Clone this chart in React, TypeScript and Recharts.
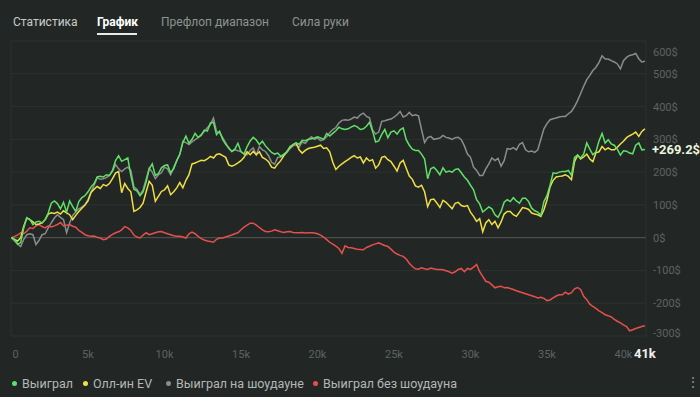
import React from 'react';
import { LineChart, Line, XAxis, YAxis, CartesianGrid, ReferenceLine } from 'recharts';

const hands = [
  0, 200, 400, 600, 800, 1000, 1200, 1400, 1600, 1800,
  2000, 2200, 2400, 2600, 2800, 3000, 3200, 3400, 3600, 3800,
  4000, 4200, 4400, 4600, 4800, 5000, 5200, 5400, 5600, 5800,
  6000, 6200, 6400, 6600, 6800, 7000, 7200, 7400, 7600, 7800,
  8000, 8200, 8400, 8600, 8800, 9000, 9200, 9400, 9600, 9800,
  10000, 10200, 10400, 10600, 10800, 11000, 11200, 11400, 11600, 11800,
  12000, 12200, 12400, 12600, 12800, 13000, 13200, 13400, 13600, 13800,
  14000, 14200, 14400, 14600, 14800, 15000, 15200, 15400, 15600, 15800,
  16000, 16200, 16400, 16600, 16800, 17000, 17200, 17400, 17600, 17800,
  18000, 18200, 18400, 18600, 18800, 19000, 19200, 19400, 19600, 19800,
  20000, 20200, 20400, 20600, 20800, 21000, 21200, 21400, 21600, 21800,
  22000, 22200, 22400, 22600, 22800, 23000, 23200, 23400, 23600, 23800,
  24000, 24200, 24400, 24600, 24800, 25000, 25200, 25400, 25600, 25800,
  26000, 26200, 26400, 26600, 26800, 27000, 27200, 27400, 27600, 27800,
  28000, 28200, 28400, 28600, 28800, 29000, 29200, 29400, 29600, 29800,
  30000, 30200, 30400, 30600, 30800, 31000, 31200, 31400, 31600, 31800,
  32000, 32200, 32400, 32600, 32800, 33000, 33200, 33400, 33600, 33800,
  34000, 34200, 34400, 34600, 34800, 35000, 35200, 35400, 35600, 35800,
  36000, 36200, 36400, 36600, 36800, 37000, 37200, 37400, 37600, 37800,
  38000, 38200, 38400, 38600, 38800, 39000, 39200, 39400, 39600, 39800,
  40000, 40200, 40400, 40600, 40800, 41000, 41200, 41400,
];

// Выиграл
const won = [
  0, -5, -20, -15, 30, 61, 55, 40, 48, 50,
  45, 55, 75, 105, 112, 104, 88, 108, 78, 112,
  95, 80, 110, 122, 128, 140, 155, 165, 185, 187,
  185, 192, 190, 205, 235, 250, 233, 238, 243, 190,
  148, 143, 128, 140, 170, 210, 225, 190, 195, 213,
  220, 222, 198, 210, 235, 255, 290, 310, 288, 300,
  318, 306, 312, 328, 325, 350, 352, 314, 325, 300,
  285, 274, 263, 270, 288, 262, 255, 278, 295, 306,
  298, 284, 294, 280, 270, 260, 255, 258, 248, 255,
  262, 278, 284, 289, 285, 297, 296, 300, 302, 304,
  308, 304, 300, 318, 310, 318, 326, 337, 332, 330,
  332, 337, 342, 338, 330, 332, 340, 352, 325, 292,
  295, 315, 330, 305, 322, 326, 316, 329, 335, 299,
  282, 270, 266, 266, 255, 240, 180, 210, 215, 205,
  192, 213, 200, 203, 200, 208, 210, 198, 185, 175,
  160, 146, 116, 103, 78, 86, 94, 88, 70, 62,
  80, 108, 116, 110, 122, 112, 105, 120, 120, 110,
  90, 82, 78, 68, 110, 128, 160, 198, 196, 200,
  202, 202, 205, 190, 245, 252, 243, 255, 289, 270,
  253, 262, 295, 318, 289, 299, 286, 282, 270, 252,
  265, 264, 258, 256, 282, 289, 268, 269.2,
];

// Олл-ин EV
const allInEv = [
  0, -5, -10, 0, 35, 60, 55, 48, 40, 42,
  45, 55, 72, 76, 74, 78, 72, 82, 76, 70,
  55, 68, 80, 90, 100, 112, 138, 148, 156, 150,
  162, 158, 165, 180, 197, 202, 137, 165, 150, 140,
  80, 85, 92, 105, 140, 172, 160, 111, 126, 141,
  146, 158, 131, 140, 152, 168, 152, 175, 192, 225,
  228, 232, 236, 235, 240, 248, 243, 254, 256, 250,
  245, 222, 218, 222, 228, 235, 245, 262, 253, 263,
  253, 262, 245, 240, 232, 215, 212, 225, 235, 250,
  263, 274, 284, 289, 268, 258, 266, 272, 274, 276,
  279, 282, 272, 274, 262, 230, 208, 218, 225, 232,
  238, 245, 250, 243, 246, 228, 243, 234, 238, 212,
  222, 245, 248, 238, 232, 218, 203, 228, 236, 212,
  188, 178, 158, 154, 160, 140, 95, 116, 118, 106,
  92, 114, 108, 98, 88, 105, 108, 98, 95, 98,
  78, 65, 50, 58, 18, 45, 55, 40, 50, 30,
  48, 72, 80, 80, 70, 65, 78, 92, 90, 86,
  75, 72, 70, 65, 85, 115, 155, 175, 185, 187,
  188, 192, 187, 177, 232, 252, 240, 246, 255, 240,
  232, 259, 262, 278, 268, 274, 268, 268, 276, 286,
  294, 305, 311, 316, 322, 309, 324, 332,
];

// Выиграл на шоудауне
const showdown = [
  0, -10, -20, -27, -5, 9, 12, 9, -21, -8,
  9, 12, 30, 45, 60, 70, 62, 55, 15, 45,
  68, 78, 88, 93, 100, 116, 140, 160, 183, 178,
  180, 183, 190, 202, 223, 210, 202, 210, 215, 205,
  155, 148, 131, 146, 178, 212, 200, 180, 192, 198,
  215, 210, 192, 215, 235, 253, 294, 290, 284, 292,
  299, 305, 315, 324, 335, 345, 365, 324, 320, 305,
  289, 272, 263, 268, 265, 263, 255, 253, 266, 274,
  253, 278, 268, 263, 250, 230, 224, 245, 246, 253,
  260, 272, 280, 283, 276, 292, 288, 299, 308, 300,
  304, 296, 299, 308, 320, 330, 336, 350, 358, 360,
  358, 362, 368, 365, 375, 380, 370, 366, 329, 316,
  322, 355, 357, 360, 362, 368, 375, 385, 368, 372,
  382, 372, 375, 372, 330, 290, 305, 309, 300, 302,
  304, 312, 306, 304, 300, 305, 306, 299, 280, 255,
  245, 215, 205, 190, 190, 210, 225, 243, 235, 242,
  218, 235, 272, 270, 275, 268, 285, 290, 268, 262,
  264, 260, 268, 300, 332, 348, 360, 363, 365, 368,
  370, 370, 378, 385, 400, 418, 440, 462, 482, 495,
  510, 520, 535, 555, 545, 545, 540, 536, 530, 515,
  540, 550, 556, 558, 562, 546, 536, 538,
];

// Выиграл без шоудауна
const noShowdown = [
  0, 4, 8, 15, 12, 20, 30, 28, 36, 40,
  34, 30, 36, 33, 36, 40, 46, 36, 38, 40,
  35, 32, 22, 16, 9, 6, 4, 5, 1, -1,
  -6, -4, 4, 10, 15, 18, 24, 34, 30, 22,
  8, 2, -1, 8, 15, 9, 12, 15, 18, 19,
  15, 12, 9, 6, 4, 4, 2, -1, 12, 17,
  12, 4, -3, -7, -10, -12, -14, -5, -1, -1,
  2, 5, 8, 12, 15, 24, 32, 38, 44, 44,
  38, 31, 24, 19, 18, 20, 24, 21, 18, 16,
  18, 19, 16, 15, 15, 16, 14, 15, 15, 14,
  12, 8, 2, -6, -14, -20, -26, -33, -48, -25,
  -30, -31, -33, -35, -36, -37, -30, -26, -22, -19,
  -16, -20, -24, -27, -35, -44, -50, -54, -57, -65,
  -78, -88, -95, -96, -92, -95, -97, -93, -95, -97,
  -97, -98, -101, -104, -108, -104, -97, -94, -104, -94,
  -97, -90, -82, -104, -118, -133, -136, -144, -153, -150,
  -148, -153, -152, -155, -158, -162, -165, -168, -171, -174,
  -177, -180, -184, -182, -185, -192, -190, -184, -178, -174,
  -174, -166, -172, -168, -156, -152, -158, -179, -189, -203,
  -210, -216, -223, -229, -235, -238, -242, -249, -255, -260,
  -266, -271, -284, -281, -277, -274, -271, -269,
];

const xTicks = [0, 5000, 10000, 15000, 20000, 25000, 30000, 35000, 40000, 41400];
const xTickLabels = ['0', '5k', '10k', '15k', '20k', '25k', '30k', '35k', '40k', '41k'];
const yTicks = [-300, -200, -100, 0, 100, 200, 300, 400, 500, 600];

const tabs = ['Статистика', 'График', 'Префлоп диапазон', 'Сила руки'];
const legendItems = [
  { name: 'Выиграл', color: '#5fe066' },
  { name: 'Олл-ин EV', color: '#f0de45' },
  { name: 'Выиграл на шоудауне', color: '#8b8d8c' },
  { name: 'Выиграл без шоудауна', color: '#e6504c' },
];

const data = hands.map((h, i) => ({
  hands: h,
  won: won[i],
  allInEv: allInEv[i],
  showdown: showdown[i],
  noShowdown: noShowdown[i],
}));

const BG = '#222725';
const GRID = '#2d3230';
const TICK = '#5e6361';
const FONT = 'Roboto, "Noto Sans", sans-serif';

const XTick = (props: any) => {
  const { x, y, payload } = props;
  const idx = xTicks.indexOf(payload.value);
  const first = idx === 0;
  const last = idx === xTicks.length - 1;
  return (
    <text
      x={first ? x + 1 : x}
      y={y}
      dy={14}
      textAnchor={first ? 'start' : 'middle'}
      fill={last ? '#f2f2f2' : TICK}
      fontSize={last ? 13 : 11}
      fontWeight={last ? 700 : 400}
      fontFamily={FONT}
    >
      {xTickLabels[idx]}
    </text>
  );
};

const YTick = (props: any) => {
  const { x, y, payload } = props;
  let shift = 4;
  if (payload.value === 600) shift = 15;
  if (payload.value === -300) shift = 1;
  return (
    <text x={x - 1} y={y + shift} textAnchor="start" fill={TICK} fontSize={11} fontFamily={FONT}>
      {payload.value}$
    </text>
  );
};

const EndLabel = (props: any) => {
  const { x, y, index } = props;
  if (index !== won.length - 1) return null;
  return (
    <text x={x + 7} y={y + 5} fill="#e9f5de" fontSize={13} fontWeight={700} fontFamily={FONT}>
      +{won[won.length - 1]}$
    </text>
  );
};

const App = () => {
  return (
    <div
      style={{
        position: 'fixed',
        top: 0,
        left: 0,
        width: 700,
        height: 397,
        background: BG,
        overflow: 'hidden',
        fontFamily: FONT,
      }}
    >
      {/* tabs */}
      {tabs.map((t, i) => (
        <div
          key={t}
          style={{
            position: 'absolute',
            top: 15,
            left: [13, 97, 161, 292][i],
            fontSize: 12,
            fontWeight: i === 1 ? 700 : 400,
            color: i === 1 ? '#ffffff' : i === 0 ? '#c9cccb' : '#8e9291',
            whiteSpace: 'nowrap',
          }}
        >
          {t}
        </div>
      ))}
      <div style={{ position: 'absolute', top: 33, left: 97, width: 40, height: 2, background: '#e8e8e8' }} />

      <div style={{ position: 'absolute', top: 0, left: 0 }}>
        <LineChart width={700} height={397} data={data} margin={{ top: 41, right: 0, bottom: 31, left: 11 }}>
          <CartesianGrid vertical={false} stroke={GRID} />
          <XAxis
            dataKey="hands"
            type="number"
            domain={[-33, 41472]}
            ticks={xTicks}
            interval={0}
            height={30}
            axisLine={false}
            tickLine={false}
            tick={<XTick />}
          />
          <YAxis
            orientation="right"
            domain={[-300, 600]}
            ticks={yTicks}
            width={54}
            axisLine={false}
            tickLine={false}
            tick={<YTick />}
          />
          <ReferenceLine x={-33} stroke={GRID} />
          <ReferenceLine x={41472} stroke={GRID} />
          <ReferenceLine y={0} stroke="#515654" />
          <Line dataKey="showdown" stroke="#8b8d8c" strokeWidth={1.5} dot={false} isAnimationActive={false} />
          <Line dataKey="noShowdown" stroke="#e6504c" strokeWidth={1.5} dot={false} isAnimationActive={false} />
          <Line dataKey="allInEv" stroke="#f0de45" strokeWidth={1.5} dot={false} isAnimationActive={false} />
          <Line
            dataKey="won"
            stroke="#5fe066"
            strokeWidth={1.5}
            dot={false}
            isAnimationActive={false}
            label={<EndLabel />}
          />
        </LineChart>
      </div>

      {/* legend */}
      {legendItems.map((it, i) => (
        <div
          key={it.name}
          style={{
            position: 'absolute',
            top: 376,
            left: [12, 83, 166, 313][i],
            display: 'flex',
            alignItems: 'center',
            fontSize: 12.5,
            color: '#b4b7b6',
            whiteSpace: 'nowrap',
          }}
        >
          <span
            style={{
              display: 'inline-block',
              width: 5,
              height: 5,
              borderRadius: '50%',
              background: it.color,
              marginRight: 5,
            }}
          />
          {it.name}
        </div>
      ))}
      <div style={{ position: 'absolute', top: 374, left: 686, fontSize: 14, color: '#8a8e8d' }}>⋮</div>
    </div>
  );
};

export default App;
